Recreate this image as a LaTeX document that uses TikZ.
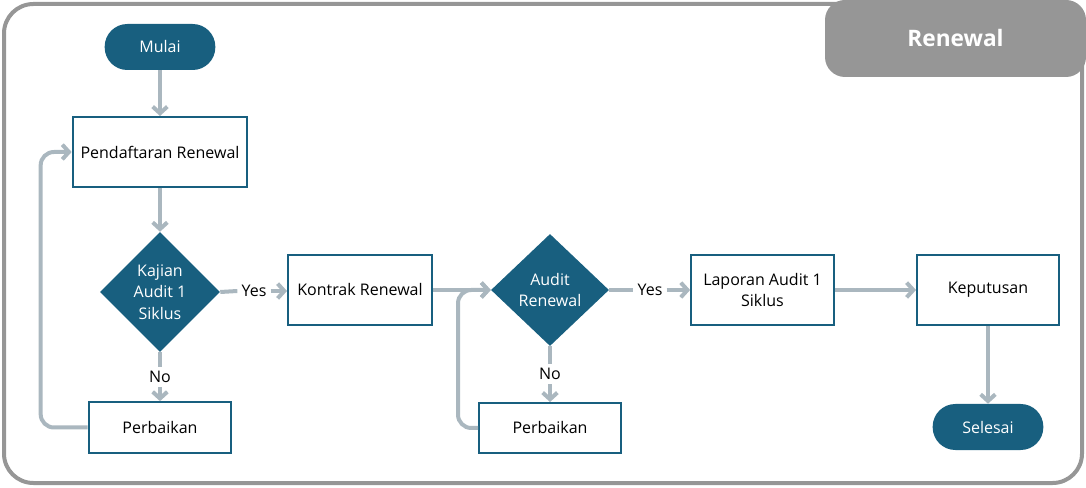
\documentclass[tikz,border=0pt]{standalone}
\usepackage{fontspec}
\setmainfont{Open Sans}
\usetikzlibrary{shapes.geometric,arrows.meta}
\definecolor{tealblue}{HTML}{185F7F}
\definecolor{flowgray}{HTML}{AAB7BF}
\definecolor{framegray}{HTML}{969696}

\begin{document}
\begin{tikzpicture}[x=0.75pt,y=-0.75pt,
	font=\fontsize{12}{16}\selectfont,
	box/.style={draw=tealblue,line width=1.5pt,fill=white,align=center,inner sep=2pt},
	term/.style={fill=tealblue,text=white,rounded corners=17pt,minimum width=83pt,minimum height=34.5pt},
	decide/.style={diamond,fill=tealblue,text=white,align=center,inner sep=0pt,minimum width=90pt,minimum height=90pt},
	flow/.style={draw=flowgray,line width=3pt},
	arr/.style={flow,-{Straight Barb[length=5pt,width=11pt]}},
	answer/.style={inner sep=3pt}]
				\useasboundingbox (0,0) rectangle (1086,488);
				\draw[framegray,line width=3pt,rounded corners=22pt] (4,4) rectangle (1082,483);
				\node[fill=framegray,text=white,rounded corners=15pt,minimum width=195.75pt,minimum height=57.75pt,font=\fontsize{17}{20}\selectfont\bfseries] (judul) at (955.5,38.5) {Renewal};
				
				\node[term] (mulai) at (160,47) {Mulai};
				\node[box,minimum width=131pt,minimum height=52.5pt] (daftar) at (160,152) {Pendaftaran Renewal};
				\node[decide] (kajian) at (160,292) {Kajian\\Audit 1\\Siklus};
				\node[box,minimum width=108pt,minimum height=53pt] (kontrak) at (360,290) {Kontrak Renewal};
				\node[box,minimum width=107pt,minimum height=38pt] (perb1) at (160,427.5) {Perbaikan};
				\node[decide,minimum width=88.5pt,minimum height=84pt] (audit) at (550,290) {Audit\\Renewal};
				\node[box,minimum width=106.5pt,minimum height=37.5pt] (perb2) at (550,428) {Perbaikan};
				\node[box,minimum width=107pt,minimum height=53pt] (laporan) at (762.5,290) {Laporan Audit 1\\Siklus};
				\node[box,minimum width=106.5pt,minimum height=53pt] (putus) at (988,290) {Keputusan};
				\node[term] (selesai) at (988,427) {Selesai};
				
				\node[answer] (yes1) at (254,291) {Yes};
				\node[answer] (no1) at (160,377) {No};
				\node[answer] (yes2) at (650,290) {Yes};
				\node[answer] (no2) at (550,374) {No};
				
				\draw[arr] (mulai) -- (daftar);
				\draw[arr] (daftar) -- (kajian);
				\draw[flow] (kajian.east) -- (yes1.west);
				\draw[arr] (yes1.east) -- (yes1.east -| kontrak.west);
				\draw[flow] (kajian.south) -- (no1.north);
				\draw[arr] (no1.south) -- (perb1.north);
				\draw[arr,rounded corners=10pt] (perb1.west) -- ++(-47,0) |- (daftar.west);
				\draw[arr] (kontrak.east) -- (audit.west);
				\draw[arr,rounded corners=10pt] (perb2.west) -- ++(-20,0) |- (audit.west);
				\draw[flow] (audit.east) -- (yes2.west);
				\draw[arr] (yes2.east) -- (laporan.west);
				\draw[flow] (audit.south) -- (no2.north);
				\draw[arr] (no2.south) -- (perb2.north);
				\draw[arr] (laporan.east) -- (putus.west);
				\draw[arr] (putus) -- (selesai);
			\end{tikzpicture}
\end{document}
